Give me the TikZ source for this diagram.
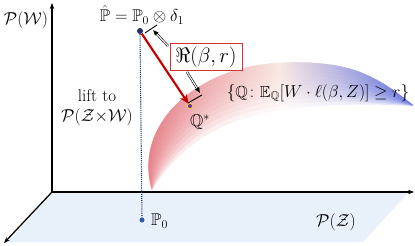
\documentclass[tikz,border=0pt]{standalone}
\usepackage{amsmath,amssymb}
\usetikzlibrary{arrows.meta,calc}
\definecolor{planeblue}{RGB}{232,240,249}
\definecolor{navy}{RGB}{30,50,110}
\definecolor{dotblue}{RGB}{50,90,170}
\definecolor{arrowred}{RGB}{200,0,0}
\definecolor{boxred}{RGB}{210,50,50}
\definecolor{qpurple}{RGB}{100,50,160}
\definecolor{bandred}{RGB}{226,110,120}
\definecolor{bandblue}{RGB}{75,95,220}
\definecolor{bandmid}{RGB}{248,228,222}
\tikzset{
  axis/.style={line width=1.3pt, -{Stealth[length=6pt,width=4.5pt]}},
  lbl/.style={inner sep=0pt, font=\fontsize{17}{19}\selectfont},
  hollowarrow/.style={double, double distance=1.1pt, line width=0.6pt, -{Latex[length=5.5pt,width=5pt]}},
  tick/.style={line width=0.9pt},
  bandshade/.style={left color=bandred, right color=bandblue, middle color=bandmid, opacity=0.19},
}
\newcommand{\bandstripe}[1]{%
  \begin{scope}
  \clip (U0) .. controls (U0a) and (U0b) .. (U1) .. controls (U1a) and (U1b) .. (U2)
    .. controls (U2a) and (U2b) .. (U3)
    -- ($(U3)!#1!(L3)$) .. controls ($(U2b)!#1!(L2b)$) and ($(U2a)!#1!(L2a)$) .. ($(U2)!#1!(L2)$)
    .. controls ($(U1b)!#1!(L1b)$) and ($(U1a)!#1!(L1a)$) .. ($(U1)!#1!(L1)$)
    .. controls ($(U0b)!#1!(L0b)$) and ($(U0a)!#1!(L0a)$) .. (U0) -- cycle;
  \shade[bandshade] (145,55) rectangle (415,195);
  \end{scope}}
\begin{document}
\begin{tikzpicture}[x=1pt,y=-1pt]
\useasboundingbox (0,0) rectangle (415,246);
% plane
\fill[planeblue] (52,193) -- (408,193) -- (363,242) -- (8,242) -- cycle;
% band geometry
\coordinate (U0) at (152,190); \coordinate (U0a) at (138,145); \coordinate (U0b) at (165,95);
\coordinate (U1) at (230,72);  \coordinate (U1a) at (270,58);  \coordinate (U1b) at (330,60);
\coordinate (U2) at (360,72);  \coordinate (U2a) at (385,82);  \coordinate (U2b) at (400,95);
\coordinate (U3) at (413,105);
\coordinate (L0) at (152,190); \coordinate (L0a) at (170,160); \coordinate (L0b) at (200,133);
\coordinate (L1) at (240,120); \coordinate (L1a) at (270,111); \coordinate (L1b) at (300,106);
\coordinate (L2) at (340,105); \coordinate (L2a) at (370,104); \coordinate (L2b) at (395,105);
\coordinate (L3) at (413,106);
\foreach \t in {1,0.9,0.8,0.7,0.6,0.5,0.4,0.3,0.2,0.1} {\bandstripe{\t}}
% axes
\coordinate (O) at (52,192);
\coordinate (yend) at (52,3);
\coordinate (xend) at (414,192);
\coordinate (zend) at (4,243);
\draw[axis] (O) -- (yend);
\draw[axis] (O) -- (xend);
\draw[axis] (O) -- (zend);
% points
\node[circle, fill=navy, inner sep=0pt, minimum size=6pt] (Phat) at (140,31) {};
\node[circle, fill=dotblue, inner sep=0pt, minimum size=5pt] (P0) at (142,220) {};
\node[circle, fill=qpurple, draw=yellow!90!orange, line width=0.6pt, inner sep=0pt, minimum size=5pt] (Qs) at (190,106) {};
\draw[navy, line width=1.1pt, densely dotted] (Phat) -- (P0);
\draw[arrowred, line width=2.2pt, -{Stealth[length=9pt,width=8pt]}] (Phat) -- (Qs);
% labels
\node[lbl] (PW) at (26,20) {$\mathcal{P}(\mathcal{W})$};
\node[lbl, align=center] (lift) at (97,108) {lift to\\[1pt]$\mathcal{P}(\mathcal{Z}{\times}\mathcal{W})$};
\node[lbl] (Phatlbl) at (142,15) {$\hat{\mathbb{P}}=\mathbb{P}_0\otimes\delta_1$};
\node[lbl, anchor=west] (P0lbl) at (151,221) {$\mathbb{P}_0$};
\node[lbl] (PZ) at (336,222) {$\mathcal{P}(\mathcal{Z})$};
\node[lbl] (Qlbl) at (200,122) {$\mathbb{Q}^{*}$};
\node[inner sep=0pt, font=\fontsize{16}{18}\selectfont] (setlbl) at (318,93) {$\{\mathbb{Q}\colon\mathbb{E}_{\mathbb{Q}}[W\cdot\ell(\beta,Z)]\geq r\}$};
\node[draw=boxred, line width=0.8pt, fill=white, minimum width=72pt, minimum height=27pt, inner sep=0pt, font=\fontsize{21}{23}\selectfont] (box) at (206,57) {$\Re(\beta,r)$};
% ticks and pointer arrows
\coordinate (t1a) at (145,33);
\coordinate (t1b) at (157,25);
\coordinate (t2a) at (188,103);
\coordinate (t2b) at (202,95);
\draw[tick] (t1a) -- (t1b);
\draw[tick] (t2a) -- (t2b);
\coordinate (a1s) at (168,46);
\coordinate (a1e) at (153,30);
\coordinate (a2s) at (187,72);
\coordinate (a2e) at (200,93);
\draw[hollowarrow] (a1s) -- (a1e);
\draw[hollowarrow] (a2s) -- (a2e);
\end{tikzpicture}
\end{document}
